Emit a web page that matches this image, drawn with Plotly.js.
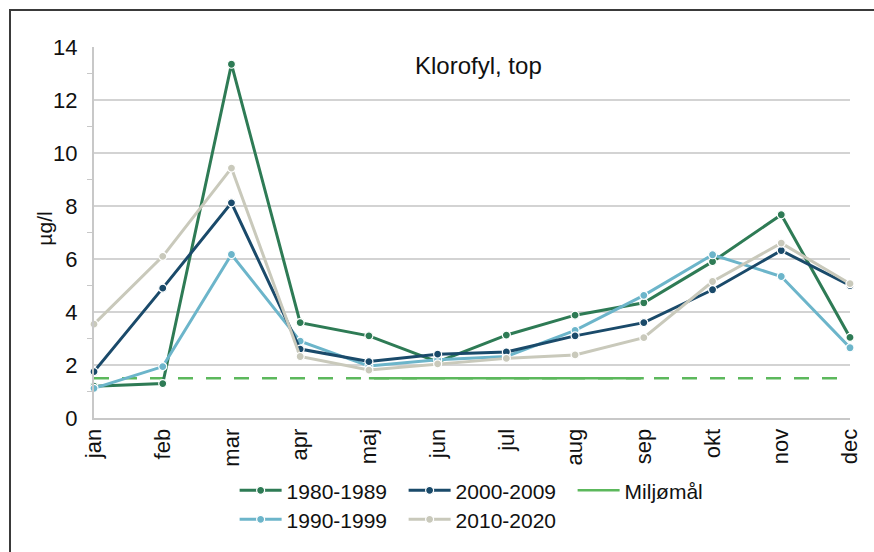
<!DOCTYPE html>
<html>
<head>
<meta charset="utf-8">
<script src="https://cdn.plot.ly/plotly-3.0.1.min.js"></script>
<style>
  html, body { margin: 0; padding: 0; background: #fff; }
  #frame { position: absolute; left: 9px; top: 9px; width: 880px; height: 560px;
           border-top: 2px solid #3a3a3a; border-left: 2px solid #3a3a3a; pointer-events: none; }
  #chart { width: 874px; height: 552px; }
</style>
</head>
<body>
<div id="chart"></div>
<div id="frame"></div>
<script>
const months = ["jan","feb","mar","apr","maj","jun","jul","aug","sep","okt","nov","dec"];
const s1980 = [1.2, 1.3, 13.35, 3.6, 3.1, 2.12, 3.13, 3.88, 4.35, 5.9, 7.67, 3.04];
const s1990 = [1.12, 1.94, 6.17, 2.9, 1.96, 2.2, 2.32, 3.31, 4.63, 6.16, 5.34, 2.65];
const s2000 = [1.75, 4.9, 8.12, 2.6, 2.13, 2.41, 2.49, 3.1, 3.6, 4.84, 6.32, 5.0];
const s2010 = [3.54, 6.1, 9.43, 2.32, 1.81, 2.04, 2.25, 2.38, 3.03, 5.15, 6.6, 5.07];
const miljoMonths = ["maj","jun","jul","aug","sep"];
const miljoValue = 1.5;
const miljoSolid = miljoMonths.map(() => miljoValue);
const miljoDashed = months.map(() => miljoValue);
const names = ["1980-1989","1990-1999","2000-2009","2010-2020","Miljømål"];
const title = "Klorofyl, top";
const yTitle = "µg/l";

const colors = {"1980-1989":"#2e7b55","1990-1999":"#6cb5ca","2000-2009":"#1a4a6a","2010-2020":"#c9c9bb"};
const font = "Liberation Sans, Arial, sans-serif";

function series(name, y, legend, rank) {
  return {
    type: "scatter", mode: "lines+markers", name: name, x: months, y: y,
    line: {color: colors[name], width: 3},
    marker: {color: colors[name], size: 8, line: {color: "#ffffff", width: 1.2}},
    legend: legend, legendrank: rank, cliponaxis: false
  };
}

const traces = [
  {type:"scatter", mode:"lines", x: months, y: miljoDashed, showlegend:false,
   line:{color:"#5cb85c", width:2.5, dash:"15px,13px"}, hoverinfo:"skip"},
  {type:"scatter", mode:"lines", x: miljoMonths, y: miljoSolid, name: names[4],
   line:{color:"#5cb85c", width:2.5}, legend:"legend", legendrank:3},
  series(names[0], s1980, "legend", 1),
  series(names[1], s1990, "legend2", 1),
  series(names[2], s2000, "legend", 2),
  series(names[3], s2010, "legend2", 2)
];

const legendCommon = {
  orientation: "h", xanchor: "left", yanchor: "middle", x: 0.186,
  font: {family: font, size: 21, color: "#111"},
  entrywidth: 112, entrywidthmode: "pixels", bgcolor: "rgba(0,0,0,0)",
  traceorder: "normal", itemwidth: 42
};

const layout = {
  width: 874, height: 552,
  margin: {l: 94, r: 24, t: 47, b: 132},
  paper_bgcolor: "#ffffff", plot_bgcolor: "#ffffff",
  font: {family: font, size: 21, color: "#111"},
  showlegend: true,
  xaxis: {
    type: "category", range: [0, 11], tickangle: -90,
    showgrid: false, showline: true, linecolor: "#c8c8c8", linewidth: 2,
    ticks: "", tickfont: {family: font, size: 22, color: "#111"}, fixedrange: true
  },
  yaxis: {
    range: [0, 14], dtick: 2, showgrid: true, gridcolor: "#d3d3d3", gridwidth: 1.5,
    showline: true, linecolor: "#c8c8c8", linewidth: 2, zeroline: false,
    ticks: "", ticklabelstandoff: 10,
    minor: {dtick: 1, ticks: "outside", ticklen: 5, tickcolor: "#c8c8c8", showgrid: false},
    tickfont: {family: font, size: 22, color: "#111"}
  },
  legend: Object.assign({}, legendCommon, {y: -0.196}),
  legend2: Object.assign({}, legendCommon, {y: -0.274}),
  annotations: [{
    text: title, xref: "paper", yref: "paper", x: 0.508, y: 0.95,
    xanchor: "center", yanchor: "middle", showarrow: false,
    font: {family: font, size: 24, color: "#111"}
  }, {
    text: yTitle, xref: "paper", yref: "paper", x: -0.065, y: 0.51,
    xanchor: "center", yanchor: "middle", showarrow: false, textangle: -90,
    font: {family: font, size: 21, color: "#111"}
  }]
};

Plotly.newPlot("chart", traces, layout, {displayModeBar: false, staticPlot: true});
</script>
</body>
</html>
